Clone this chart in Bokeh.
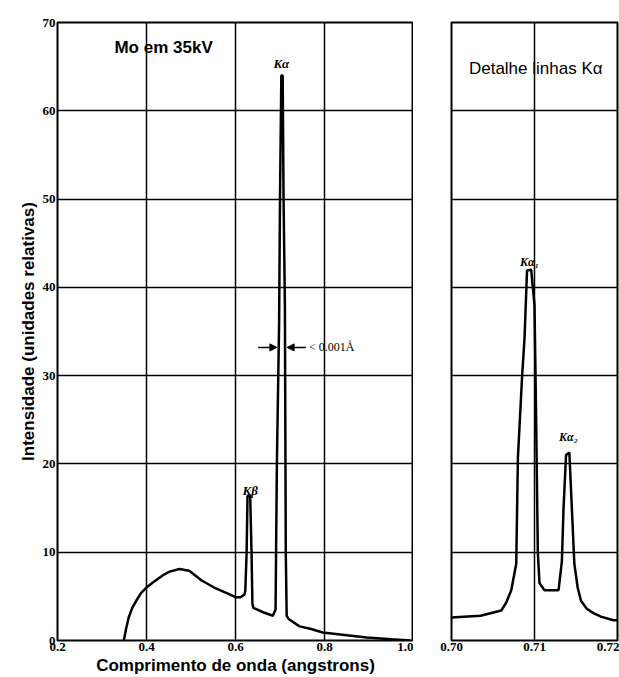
from bokeh.plotting import figure
from bokeh.layouts import row
from bokeh.models import Label, Arrow, NormalHead, FixedTicker
from bokeh.embed import file_html
from bokeh.resources import INLINE

# ---- data: full spectrum (Mo at 35 kV) ----
wave_full = [0.349, 0.354, 0.360, 0.368, 0.377, 0.388, 0.400, 0.415, 0.437, 0.452,
             0.474, 0.496, 0.524, 0.552, 0.583, 0.600, 0.611, 0.620, 0.622, 0.625,
             0.627, 0.633, 0.636, 0.638, 0.640, 0.662, 0.684, 0.690, 0.693, 0.698,
             0.700, 0.703, 0.706, 0.708, 0.711, 0.713, 0.715, 0.720, 0.744, 0.770,
             0.796, 0.850, 0.895, 0.950, 0.993]
inten_full = [0.0, 1.3, 2.6, 3.7, 4.5, 5.4, 6.0, 6.6, 7.4, 7.8,
              8.1, 7.9, 6.8, 6.0, 5.3, 4.9, 4.9, 5.2, 5.6, 10.0,
              16.4, 16.4, 10.0, 4.2, 3.7, 3.2, 2.8, 3.5, 20.0, 36.0,
              50.0, 64.0, 64.0, 50.0, 38.0, 10.0, 2.8, 2.4, 1.6, 1.3,
              0.9, 0.6, 0.35, 0.15, 0.0]

# ---- data: detail of K-alpha lines ----
wave_det = [0.7000, 0.7035, 0.7060, 0.7066, 0.7072, 0.7078, 0.7080, 0.7085, 0.7088,
            0.7091, 0.7096, 0.7100, 0.7102, 0.7104, 0.7106, 0.7112, 0.7129, 0.7133,
            0.7135, 0.7138, 0.7142, 0.7145, 0.7148, 0.7152, 0.7156, 0.7163, 0.7171,
            0.7180, 0.7195, 0.7200]
inten_det = [2.6, 2.8, 3.4, 4.3, 5.7, 8.7, 20.7, 29.8, 34.3,
             41.9, 42.0, 38.0, 25.0, 10.0, 6.5, 5.7, 5.7, 9.0,
             15.0, 21.0, 21.3, 15.0, 8.7, 6.0, 4.5, 3.6, 3.1,
             2.7, 2.3, 2.3]

x_ticks_full = [0.2, 0.4, 0.6, 0.8, 1.0]
x_tick_labels_full = ["0.2", "0.4", "0.6", "0.8", "1.0"]
x_ticks_det = [0.70, 0.71, 0.72]
x_tick_labels_det = ["0.70", "0.71", "0.72"]
y_ticks = [0, 10, 20, 30, 40, 50, 60, 70]

SANS = "Liberation Sans"
SERIF = "Liberation Serif"


def style(p):
    p.background_fill_color = "white"
    p.border_fill_color = "white"
    p.outline_line_color = "black"
    p.outline_line_width = 2
    p.xgrid.grid_line_color = "black"
    p.ygrid.grid_line_color = "black"
    p.xgrid.grid_line_width = 1.5
    p.ygrid.grid_line_width = 1.5
    p.xgrid.grid_line_alpha = 1
    p.ygrid.grid_line_alpha = 1
    for ax in (p.xaxis, p.yaxis):
        ax.axis_line_color = None
        ax.major_tick_line_color = None
        ax.minor_tick_line_color = None
        ax.major_tick_in = 0
        ax.major_tick_out = 0
        ax.major_label_text_font = SERIF
        ax.major_label_text_font_size = "13px"
        ax.major_label_text_font_style = "bold"
        ax.major_label_text_color = "black"
        ax.major_label_standoff = 2


def label(p, x, y, text, font, size, style="normal", align="center"):
    p.add_layout(Label(x=x, y=y, text=text, text_font=font, text_font_style=style,
                       text_font_size=size, text_color="black",
                       text_baseline="middle", text_align=align))


p1 = figure(width=413, height=677, x_range=(0.2, 1.0), y_range=(0, 70),
            output_backend="svg", toolbar_location=None,
            min_border_left=57, min_border_right=0, min_border_top=22,
            min_border_bottom=37)
style(p1)
p1.xaxis.ticker = FixedTicker(ticks=x_ticks_full)
p1.xaxis.major_label_overrides = dict(zip(x_ticks_full, x_tick_labels_full))
p1.yaxis.ticker = FixedTicker(ticks=y_ticks)
p1.xaxis.axis_label = "Comprimento de onda (angstrons)"
p1.yaxis.axis_label = "Intensidade (unidades relativas)"
for ax in (p1.xaxis, p1.yaxis):
    ax.axis_label_text_font = SANS
    ax.axis_label_text_font_style = "bold"
    ax.axis_label_text_font_size = "17px"
    ax.axis_label_text_color = "black"
    ax.axis_label_standoff = 2

p1.line(wave_full, inten_full, line_color="black", line_width=2.5)

label(p1, 0.328, 67.2, "Mo em 35kV", SANS, "17px", "bold", "left")
label(p1, 0.703, 65.3, "Kα", SERIF, "13px", "bold italic")
label(p1, 0.633, 17.0, "Kβ", SERIF, "13px", "bold italic")
p1.add_layout(Arrow(x_start=0.651, y_start=33.2, x_end=0.693, y_end=33.2,
                    line_color="black", line_width=1.5,
                    end=NormalHead(size=7, fill_color="black", line_color="black")))
p1.add_layout(Arrow(x_start=0.758, y_start=33.2, x_end=0.716, y_end=33.2,
                    line_color="black", line_width=1.5,
                    end=NormalHead(size=7, fill_color="black", line_color="black")))
label(p1, 0.765, 33.2, "< 0.001Å", SERIF, "12px", "normal", "left")

p2 = figure(width=206, height=677, x_range=(0.70, 0.72), y_range=(0, 70),
            output_backend="svg", toolbar_location=None,
            min_border_left=38, min_border_right=2, min_border_top=22,
            min_border_bottom=37)
style(p2)
p2.xaxis.ticker = FixedTicker(ticks=x_ticks_det)
p2.xaxis.major_label_overrides = dict(zip(x_ticks_det, x_tick_labels_det))
p2.yaxis.ticker = FixedTicker(ticks=y_ticks)
p2.yaxis.visible = False

p2.line(wave_det, inten_det, line_color="black", line_width=2.5)

label(p2, 0.7021, 64.8, "Detalhe linhas Kα", SANS, "17px", "normal", "left")
label(p2, 0.7094, 42.9, "Kα₁", SERIF, "12px", "bold italic")
label(p2, 0.7141, 23.0, "Kα₂", SERIF, "12px", "bold italic")

layout = row(p1, p2)
open("out.html", "w").write(file_html(layout, INLINE))
